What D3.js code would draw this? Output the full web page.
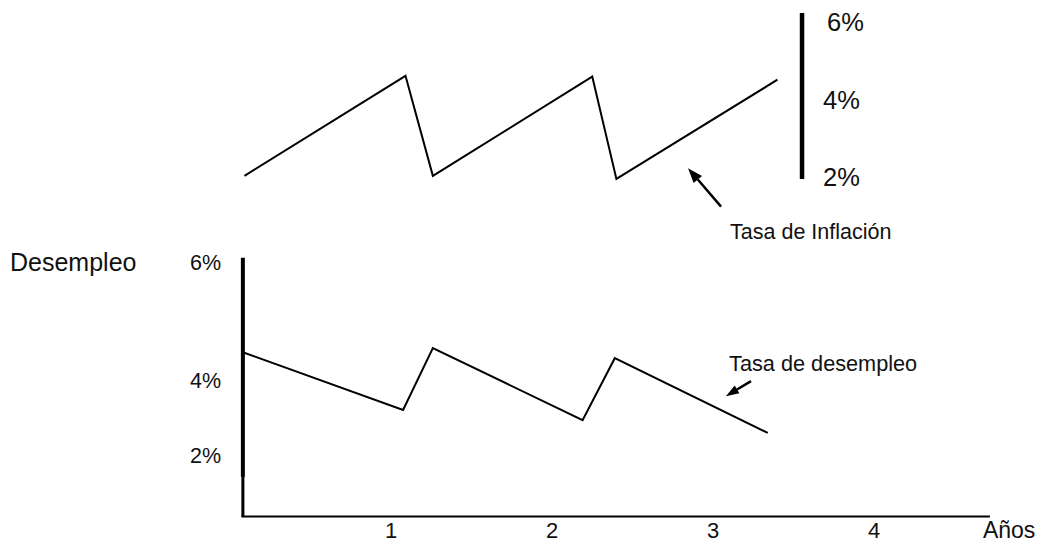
<!DOCTYPE html>
<html>
<head>
<meta charset="utf-8">
<script src="https://cdn.jsdelivr.net/npm/d3@7"></script>
<style>
  html, body { margin: 0; padding: 0; background: #fff; }
  svg { display: block; }
  text { font-family: "Liberation Sans", Arial, sans-serif; fill: #111; }
</style>
</head>
<body>
<svg id="chart" width="1043" height="544"></svg>
<script>
// ---- data ----
const inflationYears  = [0.09, 1.09, 1.26, 2.25, 2.40, 3.40];
const inflationValues = [2.03, 4.62, 2.03, 4.60, 1.95, 4.52];

const unemploymentYears  = [0.08, 1.075, 1.26, 2.19, 2.39, 3.34];
const unemploymentValues = [4.47, 3.20, 4.54, 2.93, 4.37, 2.59];

const yearTicks = [1, 2, 3, 4];
const yearTickLabels = ["1", "2", "3", "4"];
const percentTicks = [2, 4, 6];
const percentTickLabels = ["2%", "4%", "6%"];

const xAxisTitle = "Años";
const yAxisTitle = "Desempleo";
const inflationLabel = "Tasa de Inflación";
const unemploymentLabel = "Tasa de desempleo";

// ---- layout ----
const svg = d3.select("#chart");
const x = d3.scaleLinear().domain([0, 4]).range([230, 874]);
const xAxisStart = 0.08, xAxisEnd = 4.72;
const topAxisYear = 3.553;

// inflation (top) scale, right-hand axis
const yTop = d3.scaleLinear().domain([2, 4, 6]).range([177, 100, 22]);
// unemployment (bottom) scale, left axis (hand drawn, uneven spacing)
const yBot = d3.scaleLinear().domain([2, 4, 6]).range([455, 380, 262]);

const line = (ys) => d3.line().x(d => x(d[0])).y(d => ys(d[1]));

// ---- top chart: inflation ----
const topAxisX = x(topAxisYear);
svg.append("line")
  .attr("x1", topAxisX).attr("x2", topAxisX)
  .attr("y1", yTop(6.23)).attr("y2", yTop(1.95))
  .attr("stroke", "#000").attr("stroke-width", 4.5);

svg.append("g").selectAll("text").data(percentTicks).join("text")
  .attr("x", d => topAxisX + (d === 6 ? 25 : 21))
  .attr("y", d => yTop(d))
  .attr("dy", "0.36em")
  .attr("font-size", 25.5)
  .text((d, i) => percentTickLabels[i]);

svg.append("path")
  .datum(d3.zip(inflationYears, inflationValues))
  .attr("d", line(yTop))
  .attr("fill", "none").attr("stroke", "#000").attr("stroke-width", 2)
  .attr("stroke-linejoin", "miter");

// ---- bottom chart: unemployment ----
svg.append("line")
  .attr("x1", x(xAxisStart)).attr("x2", x(xAxisStart))
  .attr("y1", yBot(6.07)).attr("y2", yBot(1.42))
  .attr("stroke", "#000").attr("stroke-width", 4);
const baseY = yBot(0.36);
svg.append("line")
  .attr("x1", x(xAxisStart)).attr("x2", x(xAxisStart))
  .attr("y1", yBot(1.45)).attr("y2", baseY)
  .attr("stroke", "#000").attr("stroke-width", 3);
svg.append("line")
  .attr("x1", x(xAxisStart) - 1.5).attr("x2", x(xAxisEnd))
  .attr("y1", baseY).attr("y2", baseY)
  .attr("stroke", "#000").attr("stroke-width", 2);

svg.append("g").selectAll("text").data(percentTicks).join("text")
  .attr("x", 221)
  .attr("y", d => yBot(d))
  .attr("dy", "0.36em")
  .attr("text-anchor", "end")
  .attr("font-size", 21.5)
  .text((d, i) => percentTickLabels[i]);

svg.append("g").selectAll("text").data(yearTicks).join("text")
  .attr("x", d => x(d))
  .attr("y", baseY + 14)
  .attr("dy", "0.36em")
  .attr("text-anchor", "middle")
  .attr("font-size", 22)
  .text((d, i) => yearTickLabels[i]);

svg.append("text")
  .attr("x", x(xAxisEnd) - 7).attr("y", baseY + 13).attr("dy", "0.36em")
  .attr("font-size", 23).text(xAxisTitle);

svg.append("text")
  .attr("x", 10).attr("y", yBot(6)).attr("dy", "0.36em")
  .attr("font-size", 25).text(yAxisTitle);

svg.append("path")
  .datum(d3.zip(unemploymentYears, unemploymentValues))
  .attr("d", line(yBot))
  .attr("fill", "none").attr("stroke", "#000").attr("stroke-width", 2)
  .attr("stroke-linejoin", "miter");

// ---- annotations ----
function arrow(x1, y1, x2, y2, headLen, headW, sw) {
  const ang = Math.atan2(y2 - y1, x2 - x1);
  const bx = x2 - headLen * Math.cos(ang), by = y2 - headLen * Math.sin(ang);
  svg.append("line").attr("x1", x1).attr("y1", y1).attr("x2", bx).attr("y2", by)
    .attr("stroke", "#000").attr("stroke-width", sw);
  const px = -Math.sin(ang) * headW / 2, py = Math.cos(ang) * headW / 2;
  svg.append("path")
    .attr("d", `M${x2},${y2}L${bx + px},${by + py}L${bx - px},${by - py}Z`)
    .attr("fill", "#000");
}
arrow(x(3.05), yTop(1.23), x(2.845), yTop(2.23), 15, 11, 2.5);
svg.append("text")
  .attr("x", x(3.106)).attr("y", yTop(0.58)).attr("dy", "0.36em")
  .attr("font-size", 21.5).text(inflationLabel);

arrow(x(3.236), yBot(3.97), x(3.08), yBot(3.57), 13, 9, 2.5);
svg.append("text")
  .attr("x", x(3.1)).attr("y", yBot(4.29)).attr("dy", "0.36em")
  .attr("font-size", 21.7).text(unemploymentLabel);
</script>
</body>
</html>
